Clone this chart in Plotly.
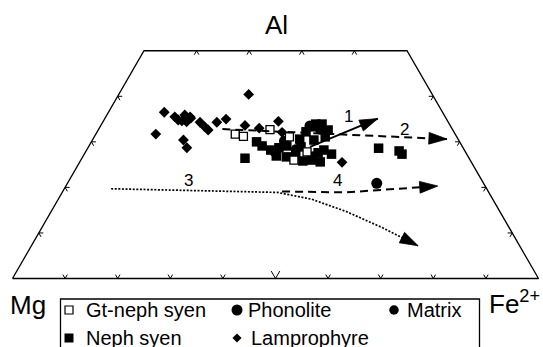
import numpy as np
import plotly.graph_objects as go

# ---------------- compositions (mol %, Mg = 100 - Al - Fe2+) ----------------
lamp_al = [36.5, 35.5, 34.8, 35.9, 35.5, 34.4, 34.6, 35.2, 34.3, 33.3, 32.6,
           34.3, 35.0, 31.7, 30.4, 28.7, 40.4, 33.6, 33.0, 34.5, 32.1, 25.5]
lamp_fe = [10.6, 13.1, 14.1, 14.8, 16.0, 15.9, 14.9, 16.3, 18.5, 19.9, 20.9,
           21.7, 23.1, 11.4, 17.3, 18.8, 24.7, 27.4, 30.4, 33.3, 35.2, 49.9]

gtneph_al = [31.7, 31.2, 32.7, 31.1, 26.0, 27.8]
gtneph_fe = [26.5, 28.3, 32.6, 37.1, 40.5, 42.1]

neph_al = [26.4, 30.0, 29.1, 28.2, 28.7, 29.1, 26.9, 26.7, 27.3, 28.9, 30.6,
           32.2, 33.3, 33.9, 30.4, 27.6, 26.0, 25.6, 25.8, 28.2, 31.1, 27.3,
           33.9, 32.6, 28.6, 28.0, 27.3]
neph_fe = [31.0, 31.4, 32.9, 35.0, 36.3, 37.6, 36.7, 38.7, 40.2, 40.4, 39.3,
           39.7, 40.1, 40.7, 42.1, 44.3, 43.9, 45.7, 42.3, 45.1, 43.9, 47.0,
           41.9, 43.7, 55.3, 59.5, 60.4]

phon_al = [20.9, 33.5, 32.8, 27.8, 26.7]
phon_fe = [58.8, 39.8, 42.1, 36.0, 43.8]

matrix_al = [28.4, 30.2]
matrix_fe = [39.7, 36.5]

# trend arrows (Al, Fe2+ along each path, last point = arrow tip)
trend1_al = [28.9, 35.1]
trend1_fe = [42.1, 51.9]
trend2_al = [32.8, 30.6]
trend2_fe = [23.5, 67.3]
trend3_al = [19.7, 19.3, 18.9, 17.4, 14.7, 11.3, 7.2]
trend3_fe = [8.9, 26.0, 40.9, 48.2, 56.1, 64.4, 73.5]
trend4_al = [19.1, 18.9, 20.3]
trend4_fe = [41.7, 53.8, 70.7]

trend_labels = ["1", "2", "3", "4"]
label_al = [35.5, 32.8, 21.5, 21.6]
label_fe = [46.1, 58.2, 22.8, 50.9]

# axis ticks (fractions along each edge, %)
base_ticks = [10, 20, 30, 40, 50, 60, 70, 80, 90]
side_ticks = [10, 20, 30, 40]
top_ticks = [10, 20, 30, 40]
AL_MAX = 50

legend_names = ["Gt-neph syen", "Neph syen", "Phonolite", "Lamprophyre", "Matrix"]

# ---------------- geometry ----------------
W, H = 543, 347
X0, BASE, Y0 = 12.5, 526.0, 278.5     # pixel position of Mg corner, base length
SQ3 = np.sqrt(3) / 2
FONT = "Liberation Sans, Arial, Helvetica, sans-serif"


def to_xy(al, fe):
    al = np.asarray(al, float) / 100.0
    fe = np.asarray(fe, float) / 100.0
    return fe + al / 2.0, al * SQ3


def pix(x, y):
    """pixel position -> data coordinates"""
    return (x - X0) / BASE, (Y0 - y) / BASE


fig = go.Figure()

# frame (truncated triangle)
fx, fy = to_xy([0, 0, AL_MAX, AL_MAX, 0], [0, 100, 100 - AL_MAX, 0, 0])
fig.add_trace(go.Scatter(x=fx, y=fy, mode="lines",
                         line=dict(color="black", width=1.3), hoverinfo="skip"))


# chevron ticks along the grid directions
def chevrons(points, dirs, length):
    xs, ys = [], []
    for (al, fe), ln in zip(points, length):
        pts = [(al + dirs[0][0] * ln, fe + dirs[0][1] * ln), (al, fe),
               (al + dirs[1][0] * ln, fe + dirs[1][1] * ln)]
        for a, f in pts:
            x, y = to_xy(a, f)
            xs.append(float(x)); ys.append(float(y))
        xs.append(None); ys.append(None)
    return xs, ys


L = 0.86
tx, ty = [], []
for pts, dirs, lens in [
    ([(0, t) for t in base_ticks], [(1, 0), (1, -1)],
     [L * 1.9 if t == 50 else L for t in base_ticks]),
    ([(AL_MAX, t) for t in top_ticks], [(-1, 0), (-1, 1)], [L] * len(top_ticks)),
    ([(t, 0) for t in side_ticks], [(0, 1), (-1, 1)], [L] * len(side_ticks)),
    ([(t, 100 - t) for t in side_ticks], [(0, -1), (-1, 0)], [L] * len(side_ticks)),
]:
    a, b = chevrons(pts, dirs, lens)
    tx += a; ty += b
fig.add_trace(go.Scatter(x=tx, y=ty, mode="lines",
                         line=dict(color="black", width=1), hoverinfo="skip"))


# data groups
def add_group(al, fe, symbol, size, fill, lw=0):
    x, y = to_xy(al, fe)
    fig.add_trace(go.Scatter(x=x, y=y, mode="markers", cliponaxis=False,
                             marker=dict(symbol=symbol, size=size, color=fill,
                                         opacity=1,
                                         line=dict(color="black", width=lw))))


add_group(lamp_al, lamp_fe, "diamond", 8.3, "black")
add_group(neph_al, neph_fe, "square", 9.5, "black")
add_group(phon_al, phon_fe, "circle", 11, "black")
add_group(matrix_al, matrix_fe, "circle", 10, "black")
add_group(gtneph_al, gtneph_fe, "square", 8, "white", 1.3)


# trend arrows
def add_trend(al, fe, dash, width):
    x, y = to_xy(al, fe)
    n = len(x)
    fig.add_trace(go.Scatter(x=x, y=y, mode="lines", cliponaxis=False,
                             line=dict(color="black", width=width, dash=dash)))
    # arrow head at the last point, oriented along the final segment
    fig.add_trace(go.Scatter(x=x[n - 2:], y=y[n - 2:], mode="markers",
                             cliponaxis=False,
                             marker=dict(symbol="arrow", size=[0, 19],
                                         color="#000000", opacity=1,
                                         angleref="previous",
                                         line=dict(color="#000000", width=0.8))))


add_trend(trend3_al, trend3_fe, "2px,1.6px", 1.7)
add_trend(trend4_al, trend4_fe, "8px,5px", 2)
add_trend(trend2_al, trend2_fe, "8px,5px", 2)
add_trend(trend1_al, trend1_fe, "solid", 2)

annotations = []
lx, ly = to_xy(label_al, label_fe)
for t, x, y in zip(trend_labels, lx, ly):
    annotations.append(dict(x=x, y=y, text=t, showarrow=False,
                            font=dict(family=FONT, size=17, color="black")))

# apex labels
for text, (px_, py_) in [("Al", (276, 25)), ("Mg", (28, 305)),
                         ("Fe<sup>2+</sup>", (514, 302))]:
    x, y = pix(px_, py_)
    annotations.append(dict(x=x, y=y, text=text, showarrow=False,
                            font=dict(family=FONT, size=26, color="black")))

# legend box
bx0, by0 = pix(60.5, 299)
bx1, by1 = pix(479.5, 352)
shapes = [dict(type="rect", x0=bx0, y0=by0, x1=bx1, y1=by1,
               line=dict(color="black", width=1.3), fillcolor="rgba(0,0,0,0)")]

legend_items = [
    # name, symbol, size, fill, line width, symbol px, text px, row y
    (legend_names[0], "square", 8, "white", 1.2, 69, 84, 310),
    (legend_names[1], "square", 9, "black", 0, 69, 84, 338),
    (legend_names[2], "circle", 11, "black", 0, 237, 246, 310),
    (legend_names[3], "diamond", 7, "black", 0, 237, 249, 338),
    (legend_names[4], "circle", 9.5, "black", 0, 394, 405, 310),
]
for name, sym, size, fill, lw, sx, txp, ry in legend_items:
    x, y = pix(sx, ry)
    fig.add_trace(go.Scatter(x=[x], y=[y], mode="markers", cliponaxis=False,
                             marker=dict(symbol=sym, size=size, color=fill,
                                         line=dict(color="black", width=lw))))
    tx_, ty_ = pix(txp, ry)
    annotations.append(dict(x=tx_, y=ty_, text=name, showarrow=False,
                            xanchor="left", yanchor="middle",
                            font=dict(family=FONT, size=20, color="black")))

xr = [pix(0, 0)[0], pix(W, 0)[0]]
yr = [pix(0, H)[1], pix(0, 0)[1]]
fig.update_layout(
    width=W, height=H, autosize=False,
    margin=dict(l=0, r=0, t=0, b=0, pad=0),
    paper_bgcolor="white", plot_bgcolor="white",
    showlegend=False,
    xaxis=dict(range=xr, visible=False, fixedrange=True),
    yaxis=dict(range=yr, visible=False, fixedrange=True),
    annotations=annotations, shapes=shapes,
)

fig.write_html("out.html")
